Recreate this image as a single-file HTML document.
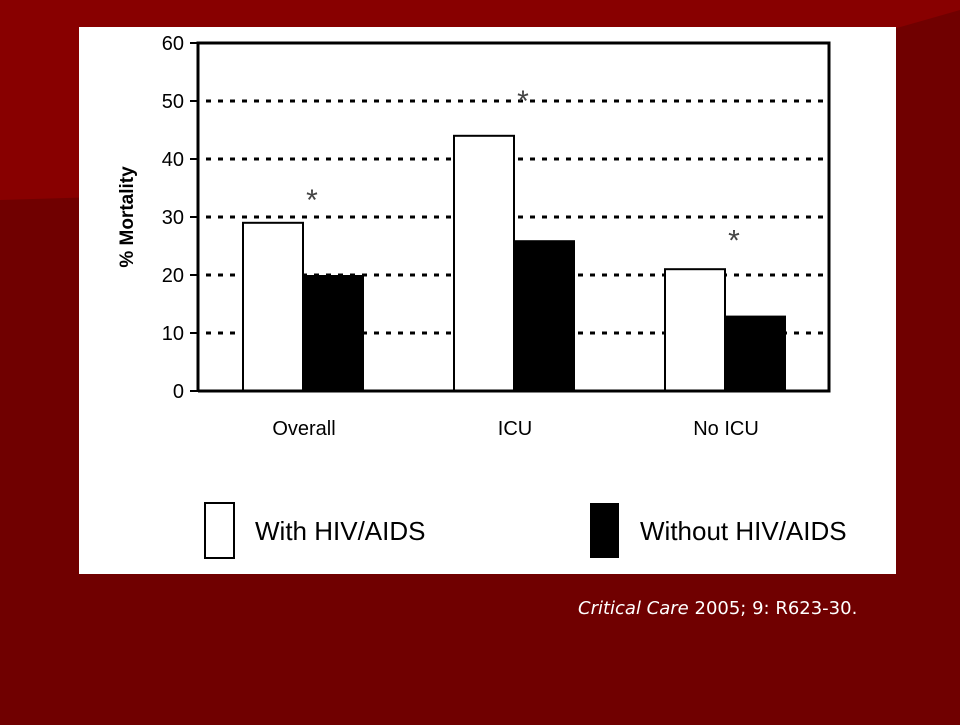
<!DOCTYPE html>
<html><head><meta charset="utf-8"><style>
body{margin:0;width:960px;height:720px;overflow:hidden;background:#700000;font-family:"Liberation Sans",sans-serif}
</style></head><body>
<svg width="960" height="720">
<rect width="960" height="720" fill="#700000"/>
<polygon points="0,0 960,0 960,10 330,190 0,200" fill="#880000"/>
<rect x="79" y="27" width="817" height="547" fill="#fff"/>
<g id="chart"></g>
<text transform="translate(133,217) rotate(-90)" text-anchor="middle" font-size="19" font-weight="bold">% Mortality</text>
<rect x="205" y="503" width="29" height="55" fill="#fff" stroke="#000" stroke-width="2"/>
<text x="255" y="540" font-size="26">With HIV/AIDS</text>
<rect x="590" y="503" width="29" height="55" fill="#000"/>
<text x="640" y="540" font-size="26">Without HIV/AIDS</text>
<text x="578" y="614" font-size="18" fill="#fff" font-family="DejaVu Sans, sans-serif"><tspan font-style="italic">Critical Care</tspan> 2005; 9: R623-30.</text>
</svg>
<script>
const categories=["Overall","ICU","No ICU"];
const withHiv=[29,44,21];
const withoutHiv=[20,26,13];
const yTicks=[0,10,20,30,40,50,60];
const stars=[34,51,27];
const NS="http://www.w3.org/2000/svg";
const g=document.getElementById("chart");
const x0=198,x1=829,yTop=43,yBot=391;
const y=v=>yBot-(v/60)*(yBot-yTop);
const groupX=i=>243+i*211;
function mk(t,a){const e=document.createElementNS(NS,t);for(const k in a)e.setAttribute(k,a[k]);g.appendChild(e);return e;}
yTicks.forEach(t=>{
 if(t>0&&t<60){const l=mk("line",{x1:x0+8,x2:x1,y1:y(t),y2:y(t),stroke:"#000","stroke-width":3,"stroke-dasharray":"5 7"});
 
 }
 const tk=mk("line",{x1:x0-8,x2:x0,y1:y(t),y2:y(t),stroke:"#000","stroke-width":2});
 
 
 const tx=mk("text",{x:x0-14,y:y(t)+7,"text-anchor":"end","font-size":20});tx.textContent=t;
 
 
});
categories.forEach((c,i)=>{
 const gx=groupX(i);
 const b1=mk("rect",{x:gx,y:y(withHiv[i]),width:60,height:yBot-y(withHiv[i]),fill:"#fff",stroke:"#000","stroke-width":2});
 
 
 const b2=mk("rect",{x:gx+60,y:y(withoutHiv[i]),width:61,height:yBot-y(withoutHiv[i]),fill:"#000"});
 
 
 const s=mk("text",{x:gx+69,y:y(stars[i])+16,"text-anchor":"middle","font-size":30,fill:"#444"});s.textContent="*";
 
 
 const l=mk("text",{x:gx+61,y:435,"text-anchor":"middle","font-size":20});l.textContent=c;
 
 
});
const ax=mk("path",{d:`M${x0},${yBot} V${yTop} H${x1} V${yBot} H${x0}`,fill:"none",stroke:"#000","stroke-width":3});


</script>
</body></html>
